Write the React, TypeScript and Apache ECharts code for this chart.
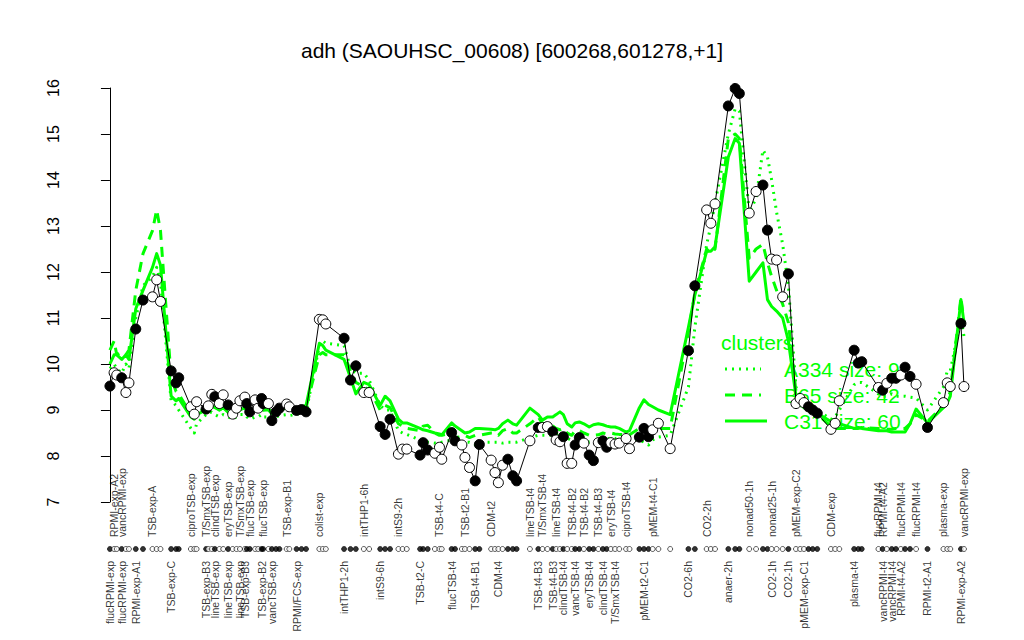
import React, { useEffect, useRef } from "react";
import * as echarts from "echarts";

const TITLE = "adh (SAOUHSC_00608) [600268,601278,+1]";

// sample position along the condition axis (ordered, groups separated by gaps)
const samplePos = [
  0.0, 1.1, 1.8, 3.1, 4.2, 5.0, 6.8, 8.7, 11.2, 12.3,
  13.3, 16.1, 17.4, 18.1, 21.3, 22.2, 22.8, 25.3, 25.9, 26.8,
  27.6, 28.8, 29.8, 31.1, 32.3, 33.3, 34.2, 35.5, 36.0, 36.8,
  38.2, 39.0, 39.9, 40.3, 41.7, 42.6, 43.7, 44.6, 46.5, 47.2,
  49.1, 50.4, 51.6, 55.1, 56.0, 56.8, 61.6, 63.3, 64.7, 66.8,
  68.2, 71.1, 72.4, 73.7, 75.9, 77.0, 78.1, 81.6, 82.4, 83.6,
  85.5, 86.7, 87.3, 89.9, 90.8, 92.6, 93.4, 94.6, 96.1, 97.2,
  100.3, 101.3, 102.2, 103.3, 104.7, 106.0, 107.0, 110.5, 112.7, 113.8,
  115.1, 116.5, 117.4, 118.4, 119.3, 120.3, 121.5, 122.4, 123.5, 124.7,
  126.1, 127.2, 128.5, 129.7, 130.7, 131.8, 132.9, 134.0, 135.8, 136.7,
  139.3, 140.5, 141.7, 142.8, 144.3, 147.4, 152.2, 153.9, 157.0, 158.1,
  159.2, 162.7, 164.5, 165.6, 168.2, 170.0, 171.8, 173.0, 174.1, 175.4,
  177.0, 178.5, 180.5, 181.6, 182.6, 183.8, 184.9, 186.1, 189.7, 190.8,
  191.9, 195.8, 196.9, 197.8, 202.2, 203.3, 204.4, 205.7, 206.8, 208.1,
  209.2, 210.5, 212.1, 215.1, 219.3, 220.3, 221.1, 223.9, 224.7,
];

// adh expression (log2)
const expression = [
  9.52, 9.81, 9.76, 9.70, 9.38, 9.59, 10.76, 11.39, 11.46, 11.83,
  11.36, 9.85, 9.59, 9.70, 9.07, 8.91, 9.18, 9.02, 9.09, 9.34,
  9.29, 9.14, 9.33, 9.11, 8.91, 9.04, 9.20, 9.28, 9.14, 8.96,
  9.22, 9.04, 9.25, 9.14, 9.14, 8.77, 8.96, 9.04, 9.13, 9.07,
  8.99, 9.01, 8.96, 10.97, 10.96, 10.87, 10.56, 9.65, 9.96, 9.38,
  9.38, 8.64, 8.47, 8.80, 8.04, 8.15, 8.15, 8.02, 8.29, 8.13,
  8.06, 8.19, 7.93, 8.51, 8.33, 8.24, 7.97, 7.75, 7.46, 8.25,
  7.91, 7.64, 7.42, 7.80, 7.93, 7.57, 7.46, 8.33, 8.62, 8.62,
  8.64, 8.53, 8.35, 8.31, 8.42, 7.84, 7.84, 8.24, 8.40, 8.28,
  8.02, 7.90, 8.29, 8.33, 8.19, 8.29, 8.26, 8.28, 8.38, 8.16,
  8.41, 8.60, 8.42, 8.57, 8.71, 8.16, 10.29, 11.70, 13.35, 13.06,
  13.48, 15.61, 15.99, 15.88, 13.28, 13.75, 13.89, 12.91, 12.28, 12.26,
  11.46, 11.96, 9.14, 9.25, 9.16, 9.07, 9.00, 8.93, 8.58, 8.71,
  9.20, 10.30, 10.02, 10.05, 9.49, 9.43, 9.58, 9.69, 9.69, 9.76,
  9.93, 9.73, 9.56, 8.62, 9.16, 9.59, 9.51, 10.88, 9.51,
];

// 1 = filled marker, 0 = open marker
const filledFlag = [
  1, 0, 0, 1, 0, 0, 1, 1, 0, 0,
  0, 1, 1, 1, 0, 0, 0, 1, 0, 0,
  1, 0, 0, 1, 0, 0, 0, 0, 1, 1,
  0, 0, 1, 1, 0, 1, 1, 1, 0, 0,
  1, 1, 1, 0, 0, 0, 1, 1, 1, 0,
  0, 1, 1, 1, 0, 0, 0, 1, 1, 1,
  0, 0, 0, 1, 1, 0, 0, 0, 1, 1,
  0, 0, 0, 0, 1, 1, 1, 0, 1, 0,
  0, 1, 0, 0, 1, 0, 0, 1, 1, 0,
  1, 1, 0, 1, 1, 0, 0, 0, 0, 0,
  1, 1, 1, 0, 0, 0, 1, 1, 0, 0,
  0, 1, 1, 1, 0, 0, 1, 1, 0, 0,
  0, 1, 0, 0, 0, 1, 1, 1, 0, 0,
  0, 1, 1, 1, 0, 1, 0, 1, 1, 0,
  1, 1, 0, 1, 0, 0, 0, 1, 0,
];

// cluster mean profiles
const clusterA = [
  9.9, 10.0, 9.9, 9.8, 10.0, 9.9, 11.0, 11.7, 11.9, 12.1,
  11.8, 9.2, 9.1, 9.0, 8.6, 8.5, 8.7, 8.9, 8.95, 8.95,
  8.9, 8.85, 8.9, 8.85, 8.8, 8.85, 8.9, 8.9, 8.85, 8.8,
  8.85, 8.85, 8.9, 8.85, 8.85, 8.8, 8.85, 8.88, 8.9, 8.88,
  8.9, 8.95, 8.95, 10.4, 10.5, 10.45, 10.4, 9.9, 9.8, 9.8,
  9.65, 9.1, 9.0, 9.0, 8.55, 8.5, 8.47, 8.35, 8.33, 8.3,
  8.28, 8.28, 8.3, 8.35, 8.3, 8.3, 8.3, 8.3, 8.25, 8.3,
  8.3, 8.3, 8.3, 8.28, 8.3, 8.3, 8.3, 8.4, 8.45, 8.45,
  8.45, 8.46, 8.48, 8.5, 8.45, 8.38, 8.35, 8.38, 8.4, 8.35,
  8.3, 8.32, 8.35, 8.38, 8.36, 8.4, 8.38, 8.4, 8.41, 8.4,
  8.35, 8.3, 8.24, 8.35, 8.41, 8.45, 9.5, 10.8, 12.6, 13.0,
  13.5, 15.0, 15.55, 15.5, 13.3, 13.6, 14.65, 14.5, 14.0, 13.3,
  12.6, 11.7, 9.5, 9.3, 9.2, 9.1, 9.05, 9.0, 8.8, 8.85,
  9.0, 9.55, 9.6, 9.6, 9.35, 9.3, 9.3, 9.35, 9.3, 9.3,
  9.3, 9.28, 9.26, 9.0, 9.5, 9.85, 9.85, 11.0, 10.6,
];
const clusterB = [
  10.3, 10.5, 10.2, 10.25, 10.2, 10.3, 11.6, 12.4, 12.9, 13.35,
  12.9, 9.7, 9.4, 9.35, 8.9, 8.85, 8.95, 9.02, 9.05, 9.1,
  9.08, 9.0, 9.05, 9.0, 8.95, 9.0, 9.02, 9.05, 9.0, 8.98,
  9.0, 9.0, 9.03, 9.0, 9.02, 8.95, 9.0, 9.02, 9.05, 9.03,
  9.0, 9.05, 9.05, 10.2, 10.25, 10.2, 10.2, 9.85, 9.6, 9.5,
  9.45, 9.0, 9.1, 9.05, 8.7, 8.65, 8.6, 8.55, 8.65, 8.67,
  8.5, 8.45, 8.45, 8.5, 8.4, 8.42, 8.45, 8.4, 8.45, 8.45,
  8.5, 8.5, 8.45, 8.55, 8.6, 8.5, 8.5, 8.7, 8.85, 8.7,
  8.7, 8.65, 8.6, 8.57, 8.6, 8.5, 8.45, 8.55, 8.55, 8.5,
  8.45, 8.45, 8.46, 8.5, 8.48, 8.5, 8.48, 8.47, 8.46, 8.46,
  8.6, 8.65, 8.6, 8.6, 8.6, 8.6, 10.7, 11.55, 12.5, 12.4,
  12.5, 14.9, 15.0, 14.9, 12.3, 12.5, 12.6, 12.2, 11.9, 11.6,
  11.3, 10.9, 9.4, 9.1, 9.05, 9.0, 8.95, 8.9, 8.65, 8.6,
  8.6, 8.6, 8.6, 8.62, 8.6, 8.6, 8.58, 8.58, 8.6, 8.6,
  8.6, 8.7, 8.9, 8.75, 9.1, 9.2, 9.4, 11.45, 10.9,
];
const clusterC = [
  10.0, 10.2, 10.2, 10.1, 10.2, 10.1, 11.2, 11.6, 12.1, 12.4,
  12.15, 9.3, 9.2, 9.25, 8.85, 8.8, 8.9, 9.0, 9.05, 9.1,
  9.05, 9.0, 9.05, 8.95, 8.9, 8.95, 9.0, 9.05, 9.0, 8.95,
  9.0, 8.98, 9.02, 9.0, 9.0, 8.92, 8.97, 9.0, 9.05, 9.02,
  9.02, 9.07, 9.1, 10.45, 10.4, 10.3, 10.1, 9.7, 9.35, 9.6,
  9.55, 9.1, 9.3, 9.2, 8.8, 8.72, 8.72, 8.6, 8.57, 8.55,
  8.5, 8.48, 8.46, 8.72, 8.65, 8.55, 8.5, 8.52, 8.6, 8.6,
  8.58, 8.57, 8.6, 8.7, 8.78, 8.7, 8.67, 9.04, 8.9, 8.78,
  8.85, 8.85, 8.9, 8.96, 8.9, 8.7, 8.63, 8.72, 8.74, 8.7,
  8.63, 8.68, 8.7, 8.68, 8.65, 8.63, 8.63, 8.6, 8.52, 8.55,
  9.05, 9.22, 9.12, 9.07, 9.0, 8.9, 10.8, 11.5, 12.45, 12.45,
  12.55, 14.5, 14.9, 14.8, 11.8, 12.0, 12.2, 11.4, 11.25, 11.15,
  11.0, 10.5, 9.3, 9.15, 9.05, 9.0, 8.95, 8.93, 8.75, 8.7,
  8.7, 8.6, 8.62, 8.6, 8.55, 8.55, 8.55, 8.52, 8.52, 8.52,
  8.52, 8.7, 9.02, 8.72, 9.05, 9.15, 9.3, 11.4, 10.9,
];

const clusterNames = ["A334 size: 9", "B65 size: 42", "C31 size: 60"];

// condition labels printed under the marker strip (sample index, text)
const lowerLabelIdx = [
  0, 3, 6, 11, 17, 20, 23, 26, 27, 32, 35, 40, 46, 51, 57, 63, 68, 72, 78, 81,
  84, 87, 90, 93, 96, 101, 106, 111, 118, 121, 124, 131, 135, 137, 139, 143, 147,
];
const lowerLabelText = [
  "flucRPMI-exp", "flucRPMI-exp", "RPMI-exp-A1", "TSB-exp-C", "TSB-exp-B3",
  "lineTSB-exp", "lineTSB-exp", "lineTSB-exp", "TSB-exp-B3", "TSB-exp-B2",
  "vancTSB-exp", "RPMI/FCS-exp", "intTHP1-2h", "intS9-6h", "TSB-t2-C",
  "flucTSB-t4", "TSB-t4-B1", "CDM-t4", "TSB-t4-B3", "TSB-t4-B3",
  "clindTSB-t4", "vancTSB-t4", "eryTSB-t4", "clindTSB-t4", "T/SmxTSB-t4",
  "pMEM-t2-C1", "CO2-6h", "anaer-2h", "CO2-1h", "CO2-1h",
  "pMEM-exp-C1", "plasma-t4", "vancRPMI-t4", "vancRPMI-t4", "RPMI-t4-A2",
  "RPMI-t2-A1", "RPMI-exp-A2",
];
// condition labels printed above the marker strip
const upperLabelIdx = [
  1, 3, 8, 14, 17, 20, 23, 26, 29, 33, 38, 43, 49, 54, 61, 66, 70, 77, 79, 82,
  86, 89, 92, 95, 98, 103, 108, 114, 118, 122, 128, 134, 135, 139, 142, 144, 148,
];
const upperLabelText = [
  "RPMI-exp-A2", "vancRPMI-exp", "TSB-exp-A", "ciproTSB-exp", "T/SmxTSB-exp",
  "clindTSB-exp", "eryTSB-exp", "T/SmxTSB-exp", "flucTSB-exp", "flucTSB-exp",
  "TSB-exp-B1", "colist-exp", "intTHP1-6h", "intS9-2h", "TSB-t4-C",
  "TSB-t2-B1", "CDM-t2", "lineTSB-t4", "T/SmxTSB-t4", "lineTSB-t4",
  "TSB-t4-B2", "TSB-t4-B2", "TSB-t4-B3", "eryTSB-t4", "ciproTSB-t4",
  "pMEM-t4-C1", "CO2-2h", "nonad50-1h", "nonad25-1h", "pMEM-exp-C2",
  "CDM-exp", "flucRPMI-t4", "RPMI-t4-A2", "flucRPMI-t4", "flucRPMI-t4",
  "plasma-exp", "vancRPMI-exp",
];

const Y_MIN = 7;
const Y_MAX = 16;
const X_MIN = -8.4;
const X_MAX = 227.6;

const FONT = "'Liberation Sans', Arial, Helvetica, sans-serif";
const GREEN = "#00ff00";

export default function App() {
  const ref = useRef<HTMLDivElement>(null);

  useEffect(() => {
    const chart = echarts.init(ref.current as HTMLDivElement, null, { renderer: "svg" });

    const prof = (arr: number[]) => samplePos.map((p, i) => [p, arr[i]]);

    const blackData = samplePos.map((p, i) => ({
      value: [p, expression[i]],
      itemStyle: { color: filledFlag[i] ? "#000" : "#fff" },
    }));
    const rugData = samplePos.map((p, i) => ({
      value: [p, 0.5],
      itemStyle: { color: filledFlag[i] ? "#000" : "#fff" },
    }));
    const lowerData = lowerLabelIdx.map((idx, k) => ({
      value: [samplePos[idx], 0],
      name: lowerLabelText[k],
    }));
    const upperData = upperLabelIdx.map((idx, k) => ({
      value: [samplePos[idx], 1],
      name: upperLabelText[k],
    }));

    const greenLine = (name: string, arr: number[], type: any) => ({
      name,
      type: "line",
      xAxisIndex: 0,
      yAxisIndex: 0,
      data: prof(arr),
      symbol: "none",
      z: 2,
      silent: true,
      lineStyle: { color: GREEN, width: 3, type, cap: "butt", join: "round" },
    });

    const labelSeries = (data: any[], align: string) => ({
      type: "scatter",
      xAxisIndex: 1,
      yAxisIndex: 1,
      data,
      symbolSize: 1,
      silent: true,
      itemStyle: { color: "rgba(0,0,0,0)" },
      label: {
        show: true,
        position: "inside",
        formatter: (p: any) => p.name,
        rotate: 90,
        align,
        verticalAlign: "middle",
        fontSize: 10.5,
        fontFamily: FONT,
        color: "#000",
      },
      z: 3,
    });

    const legendRows = [369, 395, 421];
    const legendDash: any[] = [[2, 5], [10, 7], null];

    const option: any = {
      animation: false,
      backgroundColor: "#ffffff",
      textStyle: { fontFamily: FONT },
      title: {
        text: TITLE,
        left: "center",
        top: 35,
        textStyle: { fontSize: 21, fontWeight: "normal", color: "#000", fontFamily: FONT },
      },
      grid: [
        { left: 78, right: 49, top: 88, bottom: 138 },
        { left: 78, right: 49, top: 537, height: 24 },
      ],
      xAxis: [
        { gridIndex: 0, type: "value", min: X_MIN, max: X_MAX, show: false },
        { gridIndex: 1, type: "value", min: X_MIN, max: X_MAX, show: false },
      ],
      yAxis: [
        {
          gridIndex: 0,
          type: "value",
          min: Y_MIN,
          max: Y_MAX,
          interval: 1,
          axisLine: { show: true, lineStyle: { color: "#000", width: 1 } },
          axisTick: { show: true, length: 9, lineStyle: { color: "#000", width: 1 } },
          splitLine: { show: false },
          axisLabel: { color: "#000", fontSize: 16, fontFamily: FONT, rotate: 90, margin: 17 },
        },
        { gridIndex: 1, type: "value", min: 0, max: 1, show: false },
      ],
      graphic: [
        {
          type: "group",
          z: 5,
          silent: true,
          children: [
            {
              type: "text",
              x: 721,
              y: 342,
              style: { text: "clusters", fill: GREEN, font: `21px ${FONT}`, verticalAlign: "middle" },
            },
            ...legendRows.map((yy, k) => ({
              type: "line",
              shape: { x1: 725, y1: yy, x2: k === 2 ? 767 : 761, y2: yy },
              style: { stroke: GREEN, lineWidth: 3, lineDash: legendDash[k] || undefined },
            })),
            ...legendRows.map((yy, k) => ({
              type: "text",
              x: 784,
              y: yy,
              style: { text: clusterNames[k], fill: GREEN, font: `21px ${FONT}`, verticalAlign: "middle" },
            })),
          ],
        },
      ],
      series: [
        greenLine("A", clusterA, [2, 5]),
        greenLine("B", clusterB, [10, 7]),
        greenLine("C", clusterC, "solid"),
        {
          name: "adh",
          type: "line",
          xAxisIndex: 0,
          yAxisIndex: 0,
          data: blackData,
          symbol: "circle",
          symbolSize: 10,
          z: 10,
          lineStyle: { color: "#000", width: 1 },
          itemStyle: { borderColor: "#000", borderWidth: 1 },
        },
        {
          type: "scatter",
          xAxisIndex: 1,
          yAxisIndex: 1,
          data: rugData,
          symbol: "circle",
          symbolSize: 5,
          z: 4,
          itemStyle: { borderColor: "#000", borderWidth: 0.8 },
        },
        labelSeries(lowerData, "right"),
        labelSeries(upperData, "left"),
      ],
    };

    chart.setOption(option);
    return () => chart.dispose();
  }, []);

  return <div ref={ref} style={{ width: 1024, height: 640, margin: -8 }} />;
}
